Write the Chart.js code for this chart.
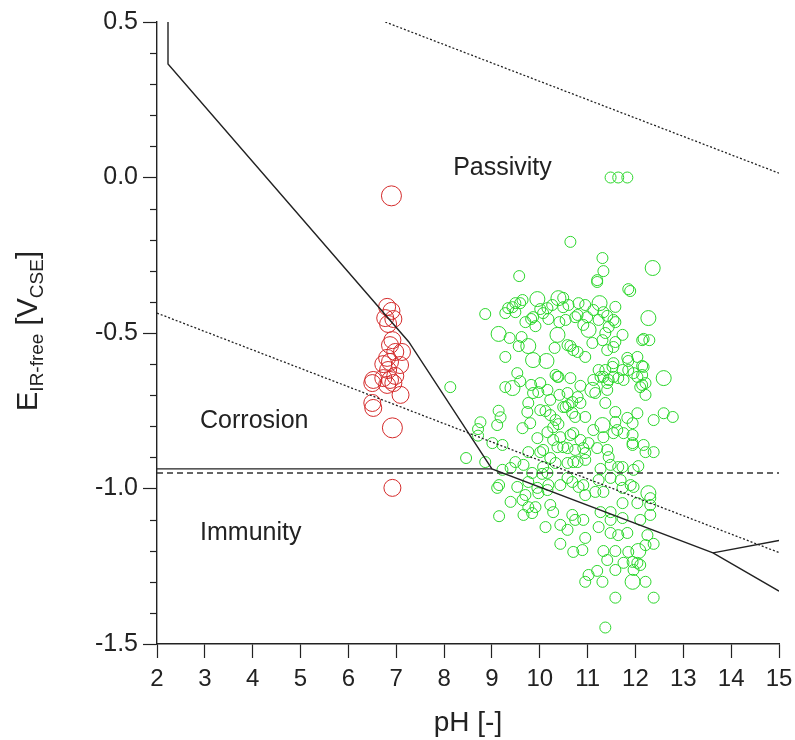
<!DOCTYPE html>
<html><head><meta charset="utf-8">
<script src="https://cdn.jsdelivr.net/npm/chart.js@4.4.1/dist/chart.umd.min.js"></script>
<style>html,body{margin:0;padding:0;background:#fff}</style>
</head><body>
<canvas id="c" width="795" height="740"></canvas>
<script>
// ---------- data ----------
const xTicks = [2,3,4,5,6,7,8,9,10,11,12,13,14,15];

// Pourbaix boundary lines (pH, E)
const boundaryPH = [2.23, 2.23, 7.26, 9.0, 13.62, 15];
const boundaryE  = [0.5, 0.365, -0.528, -0.937, -1.207, -1.33];
const horizPH = [2, 9.0];
const horizE  = [-0.937, -0.937];
const branchPH = [13.62, 15];
const branchE  = [-1.207, -1.167];
const dashedPH = [2, 15];
const dashedE  = [-0.95, -0.95];
const oxygenPH = [6.77, 15];
const oxygenE  = [0.5, 0.014];
const hydrogenPH = [2, 15];
const hydrogenE  = [-0.436, -1.206];

// red measurements
const redPH = [6.81,6.90,6.77,6.94,6.83,6.92,6.87,6.98,7.12,6.81,6.87,7.08,6.73,6.83,6.52,6.50,6.73,6.87,6.98,6.81,6.94,7.09,6.50,6.52,6.92];
const redE  = [-0.416,-0.429,-0.452,-0.455,-0.471,-0.523,-0.539,-0.561,-0.561,-0.580,-0.593,-0.603,-0.600,-0.619,-0.651,-0.661,-0.645,-0.651,-0.638,-0.667,-0.661,-0.699,-0.725,-0.741,-0.998];
const redBigPH = [6.90, 6.92];
const redBigE  = [-0.059, -0.805];

// green measurements
const greenPH = [
11.48,11.64,11.83,10.64,11.31,11.33,11.20,11.85,11.89,9.57,8.86,
9.28,9.34,9.43,9.49,9.64,9.59,10.01,10.16,10.26,10.49,9.37,9.62,9.56,9.70,9.82,9.91,9.86,10.07,10.18,10.41,10.31,9.28,9.53,9.59,9.28,9.82,10.01,9.97,10.16,10.33,10.39,10.22,10.41,10.49,8.13,9.76,9.74,9.80,9.64,10.01,10.12,10.22,10.33,10.28,10.39,10.16,9.95,10.28,10.43,8.76,8.71,9.18,9.11,9.01,9.22,
11.20,10.49,10.60,10.81,10.95,11.12,10.54,10.74,10.91,11.23,11.41,11.58,11.44,11.37,11.73,11.58,11.31,12.14,12.29,10.58,10.70,10.95,11.10,11.41,11.54,11.83,12.04,12.14,11.85,11.73,11.54,11.37,11.27,11.12,11.44,11.64,12.04,12.14,12.21,10.64,10.85,11.41,10.58,10.68,10.85,10.54,10.74,10.95,11.58,12.04,12.59,12.78,11.58,11.94,11.54,11.75,11.94,11.94,12.17,10.64,10.85,11.02,11.33,10.49,
8.46,8.86,9.22,9.39,9.49,9.76,10.07,10.22,9.84,10.05,9.11,9.15,9.53,9.70,9.39,9.64,9.76,9.91,9.66,9.84,9.97,10.18,10.22,10.28,9.15,10.12,10.43,10.43,10.16,10.33,8.71,9.14,
10.58,10.74,10.91,11.20,11.41,11.94,12.21,12.38,10.70,10.95,11.27,11.48,11.64,11.96,12.06,10.58,10.81,10.95,11.16,11.33,11.69,11.90,12.31,12.04,11.73,11.48,10.68,10.74,10.91,11.27,11.48,11.73,12.10,12.31,12.31,10.58,10.95,11.23,11.48,11.64,11.83,12.25,12.38,12.21,10.70,10.89,11.33,11.58,11.85,11.41,11.75,11.94,12.04,12.10,11.96,11.58,11.20,11.02,10.95,11.31,12.21,11.58,12.38,11.37,
9.49,10.79,10.99,11.33,11.54,11.58,10.64,10.79,11.23,11.33,11.41,11.52,11.85,12.17,12.14,12.21,12.17,9.86,10.37,10.79,10.60,10.68,11.16,11.54,11.75,11.96,12.10,12.38,
11.37,11.83,11.62,11.12,10.70,10.37,10.01,10.07,10.58,10.79,10.95,11.44,11.73,9.66,9.76,9.95,10.16,10.43,10.68,10.91,11.23,11.48,11.73,11.96
];
const greenE = [
0.00,0.00,0.00,-0.207,-0.259,-0.301,-0.330,-0.359,-0.365,-0.317,-0.439,
-0.436,-0.420,-0.417,-0.433,-0.394,-0.404,-0.423,-0.420,-0.410,-0.417,-0.516,-0.513,-0.542,-0.465,-0.455,-0.478,-0.449,-0.436,-0.455,-0.465,-0.548,-0.577,-0.629,-0.655,-0.674,-0.667,-0.661,-0.690,-0.683,-0.635,-0.641,-0.715,-0.699,-0.738,-0.674,-0.725,-0.754,-0.790,-0.806,-0.748,-0.751,-0.764,-0.780,-0.803,-0.793,-0.819,-0.838,-0.844,-0.835,-0.787,-0.809,-0.771,-0.796,-0.854,-0.860,
-0.336,-0.387,-0.410,-0.404,-0.410,-0.426,-0.458,-0.449,-0.474,-0.458,-0.445,-0.465,-0.481,-0.500,-0.506,-0.529,-0.523,-0.523,-0.523,-0.539,-0.555,-0.577,-0.532,-0.555,-0.545,-0.580,-0.577,-0.606,-0.619,-0.619,-0.597,-0.619,-0.641,-0.651,-0.651,-0.645,-0.641,-0.667,-0.699,-0.645,-0.670,-0.683,-0.693,-0.722,-0.725,-0.738,-0.770,-0.770,-0.754,-0.758,-0.758,-0.770,-0.786,-0.790,-0.822,-0.822,-0.828,-0.854,-0.860,-0.828,-0.844,-0.854,-0.835,-0.867,
-0.902,-0.915,-0.940,-0.934,-0.915,-0.883,-0.876,-0.902,-0.950,-0.953,-0.998,-0.989,-0.995,-1.021,-1.043,-1.037,-1.060,-1.060,-1.085,-1.079,-1.015,-0.989,-1.053,-1.076,-1.089,-1.124,-1.117,-1.178,-0.950,-0.918,-0.830,-0.750,
-0.870,-0.876,-0.870,-0.870,-0.876,-0.860,-0.883,-0.883,-0.915,-0.908,-0.937,-0.924,-0.931,-0.940,-0.928,-0.966,-0.995,-1.021,-1.011,-1.011,-0.973,-0.989,-1.031,-1.047,-1.047,-1.076,-1.085,-1.101,-1.101,-1.076,-1.101,-1.095,-1.101,-1.085,-1.053,-1.133,-1.159,-1.124,-1.143,-1.150,-1.143,-1.150,-1.178,-1.182,-1.204,-1.198,-1.201,-1.201,-1.204,-1.230,-1.239,-1.236,-1.239,-1.246,-1.262,-1.262,-1.265,-1.278,-1.300,-1.300,-1.300,-1.351,-1.351,-1.447,
-0.404,-0.442,-0.449,-0.433,-0.458,-0.416,-0.542,-0.561,-0.619,-0.641,-0.661,-0.609,-0.590,-0.609,-0.635,-0.661,-0.519,-0.693,-0.641,-0.706,-0.732,-0.757,-0.693,-0.641,-0.651,-0.629,-0.674,-0.780,
-0.725,-0.773,-0.812,-0.812,-0.822,-0.867,-0.883,-0.931,-0.918,-0.915,-0.886,-0.899,-0.931,-0.924,-0.979,-0.998,-1.005,-0.989,-0.979,-0.989,-0.973,-0.966,-0.998,-0.995
];
const greenBigPH = [12.36,9.95,10.39,9.14,9.76,10.37,9.86,10.14,9.43,12.27,11.25,11.02,12.59,11.10,11.31,12.27,12.06,11.94];
const greenBigE  = [-0.291,-0.391,-0.388,-0.503,-0.542,-0.506,-0.587,-0.590,-0.677,-0.452,-0.404,-0.490,-0.645,-0.683,-0.796,-1.015,-1.201,-1.300];

// region labels
const regionText = ['Passivity', 'Corrosion', 'Immunity'];
const regionPH = [8.19, 2.90, 2.90];
const regionE  = [0.008, -0.805, -1.166];

// ---------- helpers ----------
const pts = (xs, ys) => xs.map((v, i) => ({x: v, y: ys[i]}));
const FONT = '"Liberation Sans", Arial, Helvetica, sans-serif';
const INK = '#222';
const isMajorY = v => Math.abs(Math.round(v * 10)) % 5 === 0;

function lineDS(xs, ys, dash, color, width) {
  return {type: 'scatter', data: pts(xs, ys), showLine: true, borderColor: color || INK,
    borderWidth: width || 1.4, borderDash: dash || [], pointRadius: 0, fill: false, tension: 0, order: 0};
}
function circDS(xs, ys, color, r) {
  return {type: 'scatter', data: pts(xs, ys), showLine: false, pointStyle: 'circle',
    pointRadius: r, pointBorderColor: color, pointBackgroundColor: 'rgba(0,0,0,0)',
    pointBorderWidth: 1, borderColor: color, backgroundColor: 'rgba(0,0,0,0)', order: 1};
}

const extras = {
  id: 'extras',
  afterDraw(chart) {
    const {ctx, scales: {x, y}, chartArea} = chart;
    ctx.save();
    // minor ticks on y axis
    ctx.strokeStyle = INK; ctx.lineWidth = 1.2;
    for (let k = -15; k <= 5; k++) {
      if (k % 5 === 0) continue;
      const py = Math.round(y.getPixelForValue(k / 10)) + 0.5;
      ctx.beginPath(); ctx.moveTo(chartArea.left - 7, py); ctx.lineTo(chartArea.left, py); ctx.stroke();
    }
    // region labels
    ctx.fillStyle = INK; ctx.font = '25px ' + FONT; ctx.textAlign = 'left'; ctx.textBaseline = 'alphabetic';
    regionText.forEach((t, i) => ctx.fillText(t, x.getPixelForValue(regionPH[i]), y.getPixelForValue(regionE[i])));
    // y-axis title with subscripts
    const parts = [
      {t: 'E', f: '29px ' + FONT, dy: 0},
      {t: 'IR-free', f: '19px ' + FONT, dy: 6},
      {t: ' [V', f: '29px ' + FONT, dy: 0},
      {t: 'CSE', f: '19px ' + FONT, dy: 6},
      {t: ']', f: '29px ' + FONT, dy: 0}
    ];
    let total = 0;
    parts.forEach(p => { ctx.font = p.f; p.w = ctx.measureText(p.t).width; total += p.w; });
    ctx.translate(37, (chartArea.top + chartArea.bottom) / 2 - 2);
    ctx.rotate(-Math.PI / 2);
    let cx = -total / 2;
    parts.forEach(p => { ctx.font = p.f; ctx.fillText(p.t, cx, p.dy); cx += p.w; });
    ctx.restore();
  }
};

new Chart(document.getElementById('c'), {
  type: 'scatter',
  data: {
    datasets: [
      lineDS(boundaryPH, boundaryE),
      lineDS(horizPH, horizE),
      lineDS(branchPH, branchE),
      lineDS(dashedPH, dashedE, [6, 4], '#333', 1.4),
      lineDS(oxygenPH, oxygenE, [2, 2], '#222', 1.3),
      lineDS(hydrogenPH, hydrogenE, [2, 2], '#222', 1.3),
      circDS(redPH, redE, '#d42a2a', 8.5),
      circDS(redBigPH, redBigE, '#d42a2a', 10),
      circDS(greenPH, greenE, '#2bd62b', 5.5),
      circDS(greenBigPH, greenBigE, '#2bd62b', 7.5)
    ]
  },
  options: {
    responsive: false, animation: false, devicePixelRatio: 1,
    layout: {padding: {top: 22, right: 16, bottom: 0, left: 0}},
    plugins: {legend: {display: false}, tooltip: {enabled: false}},
    scales: {
      x: {
        type: 'linear', min: 2, max: 15,
        afterFit(s) { s.height = 96; s.paddingRight = 0; s.paddingLeft = 0; },
        afterBuildTicks(s) { s.ticks = xTicks.map(v => ({value: v})); },
        ticks: {font: {size: 24, family: FONT}, color: INK, padding: 7, autoSkip: false, maxRotation: 0},
        grid: {drawOnChartArea: false, tickLength: 14, tickColor: INK, tickWidth: 1.2},
        border: {color: INK, width: 1.4},
        title: {display: true, text: 'pH [-]', font: {size: 28, family: FONT}, color: INK, padding: {top: 0, bottom: 0}}
      },
      y: {
        type: 'linear', min: -1.5, max: 0.5,
        afterFit(s) { s.width = 157; s.paddingTop = 0; s.paddingBottom = 0; },
        ticks: {stepSize: 0.1, autoSkip: false, font: {size: 25, family: FONT}, color: INK, padding: 5,
          callback: v => isMajorY(v) ? (Math.round(v * 10) / 10).toFixed(1) : ''},
        grid: {drawOnChartArea: false, tickLength: 14, tickWidth: 1.2,
          tickColor: c => (c.tick && isMajorY(c.tick.value)) ? INK : 'rgba(0,0,0,0)'},
        border: {color: INK, width: 1.4}
      }
    }
  },
  plugins: [extras]
});
</script>
</body></html>
